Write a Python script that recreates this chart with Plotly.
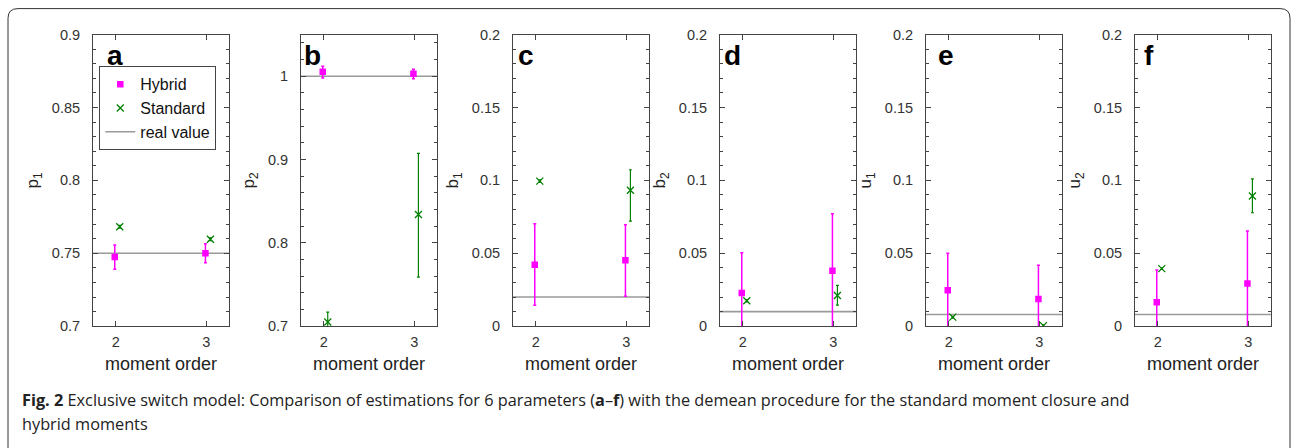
import plotly.graph_objects as go
from plotly.subplots import make_subplots

# ---------------- data ----------------
panel_letters = ["a", "b", "c", "d", "e", "f"]
y_titles = ["p<sub>1</sub>", "p<sub>2</sub>", "b<sub>1</sub>", "b<sub>2</sub>", "u<sub>1</sub>", "u<sub>2</sub>"]
moment_orders = [2, 3]
x_tick_labels = ["2", "3"]

hybrid_val = [[0.7475, 0.7500], [1.0053, 1.0030], [0.0422, 0.0452], [0.0228, 0.0380], [0.0247, 0.0187], [0.0164, 0.0292]]
hybrid_hi = [[0.7557, 0.7566], [1.0120, 1.0084], [0.0703, 0.0696], [0.0504, 0.0771], [0.0500, 0.0418], [0.0386, 0.0653]]
hybrid_lo = [[0.7390, 0.7436], [0.9980, 0.9970], [0.0144, 0.0205], [-0.0100, -0.0100], [-0.0100, -0.0100], [-0.0100, -0.0100]]

standard_val = [[0.7682, 0.7596], [0.7050, 0.8340], [0.0995, 0.0932], [0.0175, 0.0210], [0.0062, 0.0004], [0.0395, 0.0893]]
standard_hi = [[0.7692, 0.7606], [0.7170, 0.9075], [0.1003, 0.1073], [0.0183, 0.0280], [0.0068, 0.0010], [0.0401, 0.1011]]
standard_lo = [[0.7672, 0.7586], [0.6930, 0.7590], [0.0987, 0.0721], [0.0167, 0.0144], [0.0056, -0.0002], [0.0389, 0.0778]]

real_values = [0.75, 1.0, 0.02, 0.01, 0.008, 0.008]

y_ranges = [[0.7, 0.9], [0.7, 1.05], [0, 0.2], [0, 0.2], [0, 0.2], [0, 0.2]]
y_dticks = [0.05, 0.1, 0.05, 0.05, 0.05, 0.05]
y_minor = [0.01, 0.02, 0.01, 0.01, 0.01, 0.01]

caption_line1 = ("<b>Fig. 2</b> Exclusive switch model: Comparison of estimations for 6 parameters "
                 "(<b>a</b>–<b>f</b>) with the demean procedure for the standard moment closure and")
caption_line2 = "hybrid moments"

# ---------------- layout constants ----------------
W, H = 1292, 448
Y_OFF, Y_SCALE = 7.7, 0.9655   # observed page -> picture vertical mapping
MAGENTA = "#ff00ff"
GREEN = "#008000"
GRAY = "#9a9a9a"
FRAME = "#444444"
FONT = "Liberation Sans, Arial, sans-serif"


def py(y_img):
    """paper y-fraction for a target picture pixel row"""
    return 1 - ((y_img - Y_OFF) / Y_SCALE) / H


panel_left_px = [93, 301, 513, 720, 926, 1135]
panel_width_px = 136
plot_top_px, plot_bottom_px = 34.3, 326.3
letter_left_px = [105, 302, 516, 722, 936, 1142]
hyb_off, std_off = -0.01, 0.045

fig = make_subplots(rows=1, cols=6)

for i in range(6):
    col = i + 1
    xs_h = [m + hyb_off for m in moment_orders]
    xs_s = [m + std_off for m in moment_orders]
    fig.add_trace(go.Scatter(
        x=xs_h, y=hybrid_val[i], mode="markers", name="Hybrid",
        showlegend=(i == 0), legendgroup="h",
        marker=dict(symbol="square", size=6.5, color=MAGENTA),
        error_y=dict(type="data", symmetric=False,
                     array=[hi - v for hi, v in zip(hybrid_hi[i], hybrid_val[i])],
                     arrayminus=[v - lo for v, lo in zip(hybrid_val[i], hybrid_lo[i])],
                     color=MAGENTA, thickness=1.5, width=1.5),
    ), row=1, col=col)
    fig.add_trace(go.Scatter(
        x=xs_s, y=standard_val[i], mode="markers", name="Standard",
        showlegend=(i == 0), legendgroup="s",
        marker=dict(symbol="x-thin", size=7, line=dict(color=GREEN, width=1.3), color=GREEN),
        error_y=dict(type="data", symmetric=False,
                     array=[hi - v for hi, v in zip(standard_hi[i], standard_val[i])],
                     arrayminus=[v - lo for v, lo in zip(standard_val[i], standard_lo[i])],
                     color=GREEN, thickness=1.2, width=1.5),
    ), row=1, col=col)
    fig.add_hline(y=real_values[i], row=1, col=col, layer="below",
                  line=dict(color=GRAY, width=1.6))

# legend entry for the real value line
fig.add_trace(go.Scatter(x=[None], y=[None], mode="lines", name="real value",
                         line=dict(color=GRAY, width=1.5)), row=1, col=1)

y0 = py(plot_bottom_px)
y1 = py(plot_top_px)
axis_common = dict(showline=True, linecolor=FRAME, linewidth=1, mirror="allticks",
                   ticks="inside", ticklen=5, tickcolor=FRAME, showgrid=False, zeroline=False,
                   tickfont=dict(family=FONT, size=14.5, color="#333333"))
for i in range(6):
    sfx = "" if i == 0 else str(i + 1)
    left = panel_left_px[i] / W
    right = (panel_left_px[i] + panel_width_px) / W
    fig.layout["xaxis" + sfx].update(
        domain=[left, right], range=[1.75, 3.25],
        tickmode="array", tickvals=moment_orders, ticktext=x_tick_labels,
        title=dict(text="moment order", font=dict(family=FONT, size=18, color="#222222"), standoff=8),
        ticklabelstandoff=2, **axis_common)
    fig.layout["yaxis" + sfx].update(
        domain=[y0, y1], range=y_ranges[i], dtick=y_dticks[i], tick0=0,
        minor=dict(dtick=y_minor[i], ticks="inside", ticklen=3, tickcolor=FRAME, showgrid=False),
        title=dict(text=y_titles[i], font=dict(family=FONT, size=17, color="#222222"), standoff=8),
        ticklabelstandoff=9, **axis_common)
    fig.add_annotation(text="<b>" + panel_letters[i] + "</b>", xref="paper", yref="paper",
                       x=letter_left_px[i] / W, y=py(55), xanchor="left", yanchor="middle",
                       showarrow=False, font=dict(family=FONT, size=28, color="black"))

# caption
fig.add_annotation(text=caption_line1, xref="paper", yref="paper", x=20 / W, y=py(400),
                   xanchor="left", yanchor="middle", showarrow=False, align="left",
                   font=dict(family="Open Sans, sans-serif", size=16.3, color="#222222"))
fig.add_annotation(text=caption_line2, xref="paper", yref="paper", x=20 / W, y=py(424),
                   xanchor="left", yanchor="middle", showarrow=False, align="left",
                   font=dict(family="Open Sans, sans-serif", size=16.3, color="#222222"))

# outer rounded frame
x0p, x1p = 8 / W, 1290 / W
ytp = py(8.3)
rx, ry = 10 / W, 10 / H
path = (f"M {x0p},-0.1 L {x0p},{ytp - ry} Q {x0p},{ytp} {x0p + rx},{ytp} "
        f"L {x1p - rx},{ytp} Q {x1p},{ytp} {x1p},{ytp - ry} L {x1p},-0.1")
fig.add_shape(type="path", path=path, xref="paper", yref="paper",
              line=dict(color="#333333", width=1))

fig.update_layout(
    width=W, height=H, margin=dict(l=0, r=0, t=0, b=0),
    paper_bgcolor="white", plot_bgcolor="white",
    legend=dict(x=99.3 / W, y=py(66), xanchor="left", yanchor="top",
                bgcolor="white", bordercolor=FRAME, borderwidth=1,
                font=dict(family=FONT, size=16, color="#111111"),
                tracegroupgap=0, itemwidth=30),
    showlegend=True,
)

fig.write_html("out.html")
